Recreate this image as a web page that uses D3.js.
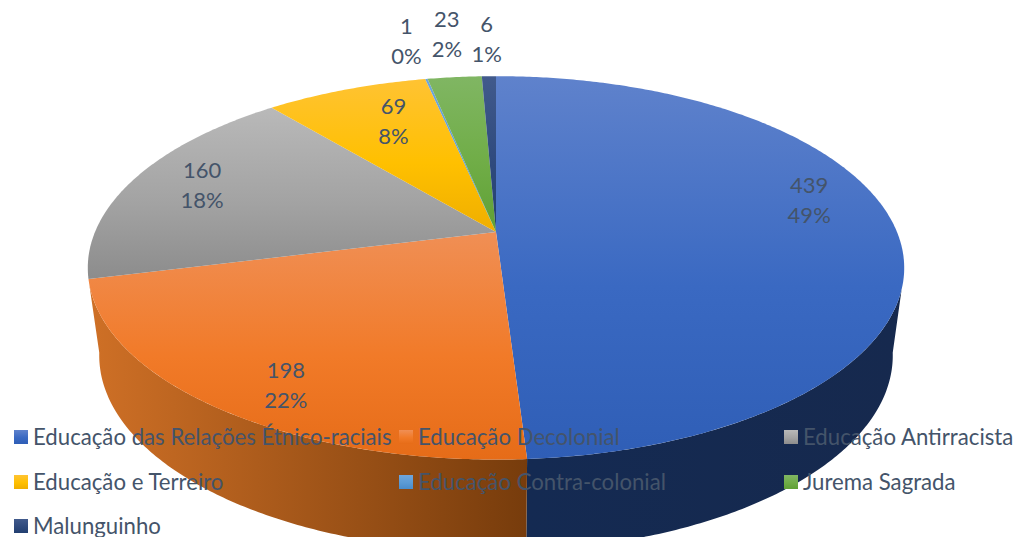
<!DOCTYPE html>
<html>
<head>
<meta charset="utf-8">
<script src="https://cdn.jsdelivr.net/npm/d3@7"></script>
<style>
html, body { margin: 0; padding: 0; background: #fff; overflow: hidden; }
text { font-family: Lato, "Open Sans", sans-serif; fill: #44546a; }
</style>
</head>
<body>
<div class="pie-plot"></div>
<script>
const categories = ['Educação das Relações Étnico-raciais', 'Educação Decolonial', 'Educação Antirracista',
    'Educação e Terreiro', 'Educação Contra-colonial', 'Jurema Sagrada', 'Malunguinho'];
const counts = [439, 198, 160, 69, 1, 23, 6];
const percents = ['49%', '22%', '18%', '8%', '0%', '2%', '1%'];

const topLight = ['#5f82cc', '#f08f55', '#b9b9b9', '#ffc333', '#6fa5dc', '#80b663', '#415a8c'];
const topMid = ['#3a69c2', '#f17a28', '#a3a3a3', '#ffc000', '#5b9bd5', '#70ad47', '#2f4a7d'];
const topDark = ['#2f5eb6', '#e66c18', '#8c8c8c', '#efae00', '#4a8ccb', '#5fa035', '#223f70'];
const sideLight = ['#142a52', '#cf7026', '#7a7a7a', '#9a7300', '#2a5a8a', '#3d6a22', '#16294c'];
const sideDark = ['#16294e', '#773c0c', '#5a5a5a', '#7a5b00', '#224a72', '#2f541a', '#12223f'];

const w = 1016;
const h = 537;
const svg = d3.select('.pie-plot').append('svg').attr('width', w).attr('height', h);
const defs = svg.append('defs');

// perspective of the tilted disc, fitted on the reference
const cx = 496, cy = 232, rx = 401, ry = 185, tilt = 0.187;
const depth = 87, shrinkX = 0.972, shrinkY = 1.02;
const rad = Math.PI / 180;

function project(a, r, drop) {
    const u = Math.sin(a) * r, v = -Math.cos(a) * r;
    const k = 1 - tilt * v;
    if (drop) return [cx + shrinkX * rx * u / k, cy + depth + shrinkY * ry * v / k];
    return [cx + rx * u / k, cy + ry * v / k];
}

const line = d3.line();
const slices = d3.pie().sort(null).value(d => d)(counts);

function arcPoints(a0, a1, drop) {
    const n = Math.max(2, Math.ceil((a1 - a0) / 0.01));
    return d3.range(n + 1).map(i => project(a0 + (a1 - a0) * i / n, 1, drop));
}

function verticalGradient(id, c0, c1, c2) {
    const g = defs.append('linearGradient').attr('id', id)
        .attr('x1', 0).attr('y1', 0).attr('x2', 0).attr('y2', 1);
    g.append('stop').attr('offset', 0).attr('stop-color', c0);
    g.append('stop').attr('offset', 0.55).attr('stop-color', c1);
    g.append('stop').attr('offset', 1).attr('stop-color', c2);
}

function sideGradient(id, c0, c1) {
    const g = defs.append('linearGradient').attr('id', id)
        .attr('x1', 0).attr('y1', 0).attr('x2', 1).attr('y2', 0);
    g.append('stop').attr('offset', 0).attr('stop-color', c0);
    g.append('stop').attr('offset', 1).attr('stop-color', c1);
}

categories.forEach((c, i) => {
    verticalGradient('top' + i, topLight[i], topMid[i], topDark[i]);
    sideGradient('side' + i, sideLight[i], sideDark[i]);
});

// wall silhouette: the top rim and the lower rim turn away at different angles
const rimStart = 107 * rad, rimEnd = 255.5 * rad;
const lowStart = 100 * rad, lowEnd = 260 * rad;

svg.append('g').selectAll('path')
    .data(slices.filter(d => d.endAngle > rimStart && d.startAngle < rimEnd))
    .enter()
    .append('path')
    .attr('d', d => {
        const upper = arcPoints(Math.max(d.startAngle, rimStart), Math.min(d.endAngle, rimEnd), false);
        const lower = arcPoints(d.startAngle <= rimStart ? lowStart : d.startAngle,
            d.endAngle >= rimEnd ? lowEnd : d.endAngle, true);
        return line(upper.concat(lower.reverse())) + 'Z';
    })
    .attr('fill', d => 'url(#side' + d.index + ')');

// top of the pie
svg.append('g').selectAll('path')
    .data(slices)
    .enter()
    .append('path')
    .attr('d', d => line([[cx, cy]].concat(arcPoints(d.startAngle, d.endAngle, false))) + 'Z')
    .attr('fill', d => 'url(#top' + d.index + ')');

// data labels, nudged from the projected centroid
const labelRadius = [0.78, 0.6, 0.75, 0.8, 1.05, 1.05, 1.05];
const labelShift = [[2, -26], [-54, 55], [-20, -5], [21, 7], [-17, -31], [-6, -36], [-2, -30]];
const labels = svg.append('g').selectAll('g')
    .data(slices)
    .enter()
    .append('g')
    .attr('transform', d => {
        const p = project((d.startAngle + d.endAngle) / 2, labelRadius[d.index], false);
        const s = labelShift[d.index];
        return 'translate(' + (p[0] + s[0]) + ',' + (p[1] + s[1]) + ')';
    })
    .attr('text-anchor', 'middle')
    .attr('font-size', 22);
labels.append('text').attr('y', -8).text((d, i) => counts[i]);
labels.append('text').attr('y', 22).text((d, i) => percents[i]);

// legend
const columns = d3.scaleOrdinal().domain([0, 1, 2]).range([14, 399, 784]);
const rows = d3.scaleOrdinal().domain([0, 1, 2]).range([437, 482, 526]);
const legend = svg.append('g').selectAll('g')
    .data(categories)
    .enter()
    .append('g')
    .attr('transform', (d, i) => 'translate(' + columns(i % 3) + ',' + rows(Math.floor(i / 3)) + ')');
legend.append('rect').attr('y', -7).attr('width', 14).attr('height', 14)
    .attr('fill', (d, i) => 'url(#top' + i + ')');
legend.append('text').attr('x', 19).attr('y', 8).attr('font-size', 22.2).text(d => d);
</script>
</body>
</html>
